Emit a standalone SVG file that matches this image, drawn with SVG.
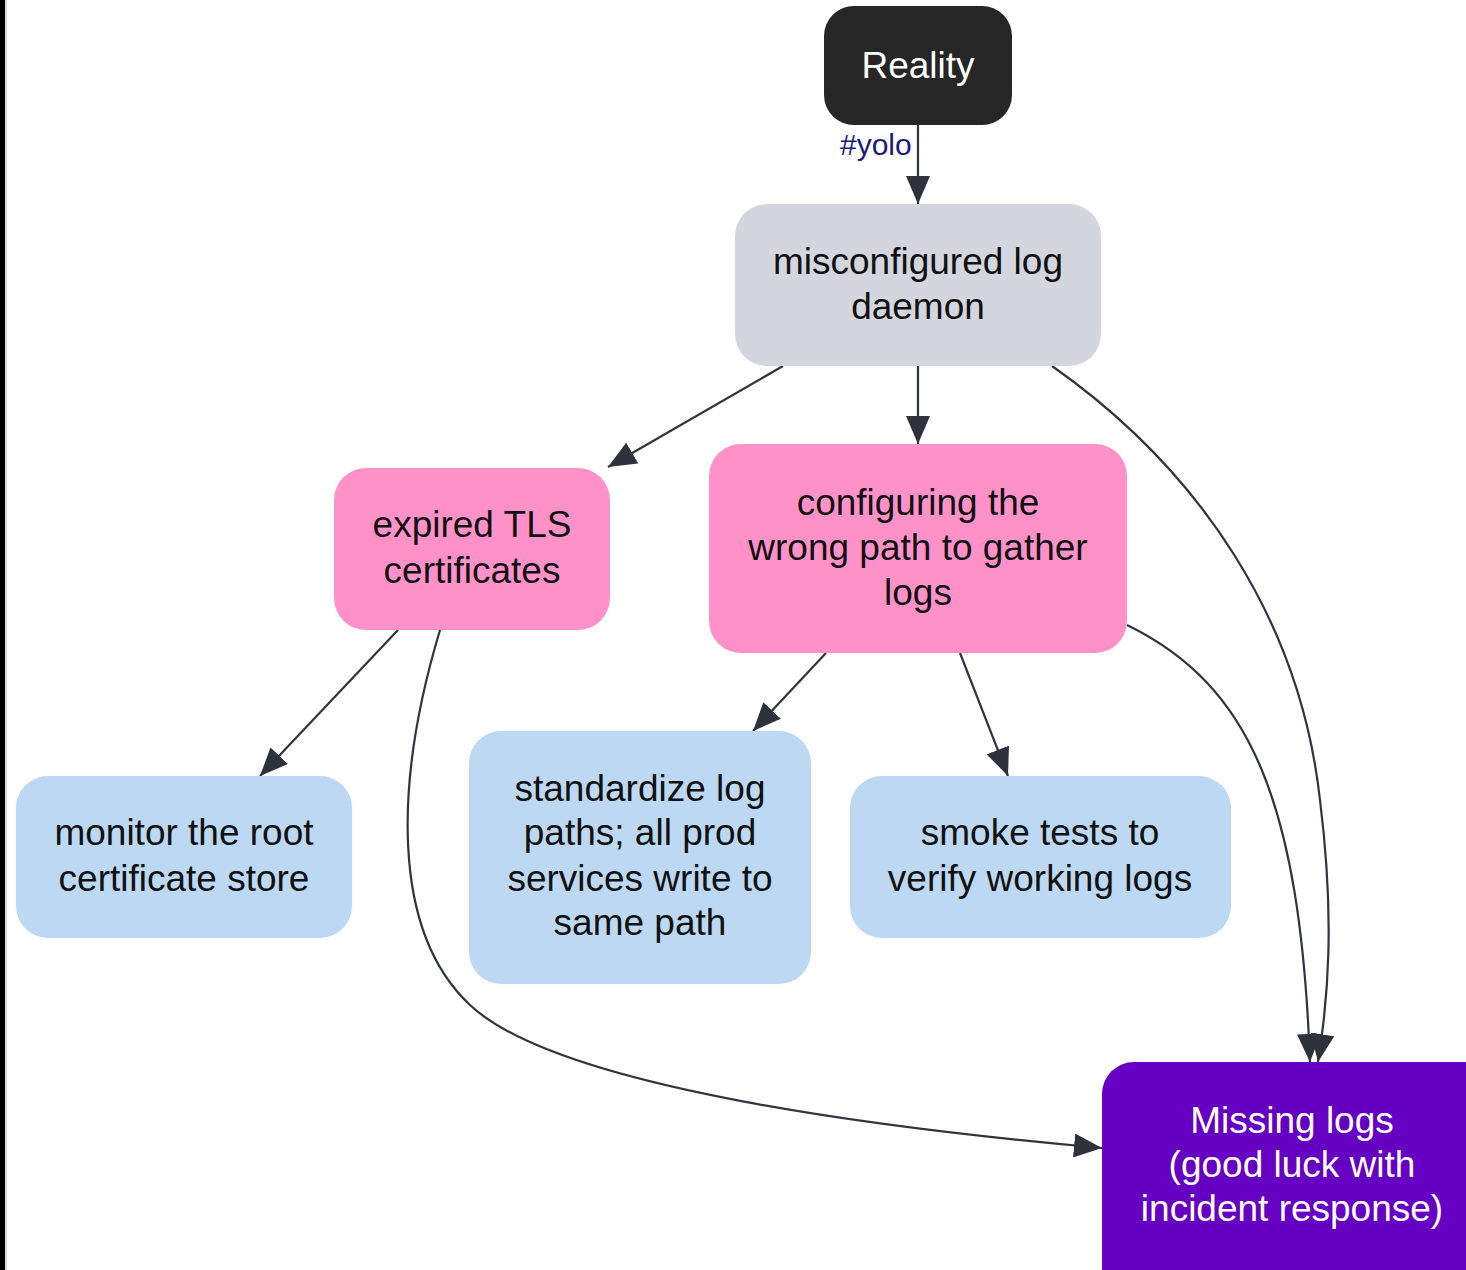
<svg xmlns="http://www.w3.org/2000/svg" width="1466" height="1270" viewBox="0 0 1466 1270">
  <style>
    .lbl { font-family: "Liberation Sans", Arial, sans-serif; font-size: 37px; text-anchor: middle; }
    .dark { fill: #111111; }
    .light { fill: #ffffff; }
    .edge { fill: none; stroke: #2f343f; stroke-width: 2.2; marker-end: url(#arrow); }
    .edgelbl { font-family: "Liberation Sans", Arial, sans-serif; font-size: 30px; fill: #1b1b7a; }
  </style>
  <defs>
    <marker id="arrow" viewBox="0 0 28 24" refX="28" refY="12" markerWidth="28" markerHeight="24" markerUnits="userSpaceOnUse" orient="auto">
      <path d="M0,0 L28,12 L0,24 Z" fill="#2d323d"/>
    </marker>
  </defs>

  <rect width="1466" height="1270" fill="#ffffff"/>
  <!-- window edge -->
  <rect x="0" y="0" width="5" height="1270" fill="#000000"/>
  <rect x="5" y="0" width="2" height="1270" fill="#d9d9d9"/>

  <g id="edges">
    <path class="edge" d="M918,125 L918,204"/>
    <path class="edge" d="M783,366 L608,467"/>
    <path class="edge" d="M918,366 L918,444"/>
    <path class="edge" d="M1052,366 C1200,470 1300,620 1320,800 C1335,920 1328,1000 1318,1062"/>
    <path class="edge" d="M1127,625 C1250,685 1300,800 1310,1062"/>
    <path class="edge" d="M398,630 L260,776"/>
    <path class="edge" d="M440,630 C395,780 390,930 470,1005 C560,1090 900,1130 1102,1148"/>
    <path class="edge" d="M826,653 L753,731"/>
    <path class="edge" d="M960,653 L1008,776"/>
    <text class="edgelbl" x="840" y="155">#yolo</text>
  </g>

  <g id="reality">
    <rect x="824" y="6" width="188" height="119" rx="30" fill="#262626"/>
    <text class="lbl light" x="918" y="78">Reality</text>
  </g>

  <g id="misconfigured">
    <rect x="735" y="204" width="366" height="162" rx="32" fill="#d3d6de"/>
    <text class="lbl dark" x="918" y="274">misconfigured log</text>
    <text class="lbl dark" x="918" y="319">daemon</text>
  </g>

  <g id="expired-tls">
    <rect x="334" y="468" width="276" height="162" rx="32" fill="#ff91c9"/>
    <text class="lbl dark" x="472" y="537">expired TLS</text>
    <text class="lbl dark" x="472" y="583">certificates</text>
  </g>

  <g id="wrong-path">
    <rect x="709" y="444" width="418" height="209" rx="32" fill="#ff91c9"/>
    <text class="lbl dark" x="918" y="515">configuring the</text>
    <text class="lbl dark" x="918" y="560">wrong path to gather</text>
    <text class="lbl dark" x="918" y="605">logs</text>
  </g>

  <g id="monitor-root">
    <rect x="16" y="776" width="336" height="162" rx="32" fill="#bcd8f2"/>
    <text class="lbl dark" x="184" y="845">monitor the root</text>
    <text class="lbl dark" x="184" y="891">certificate store</text>
  </g>

  <g id="standardize">
    <rect x="469" y="731" width="342" height="253" rx="32" fill="#bcd8f2"/>
    <text class="lbl dark" x="640" y="801">standardize log</text>
    <text class="lbl dark" x="640" y="845">paths; all prod</text>
    <text class="lbl dark" x="640" y="891">services write to</text>
    <text class="lbl dark" x="640" y="935">same path</text>
  </g>

  <g id="smoke-tests">
    <rect x="850" y="776" width="381" height="162" rx="32" fill="#bcd8f2"/>
    <text class="lbl dark" x="1040" y="845">smoke tests to</text>
    <text class="lbl dark" x="1040" y="891">verify working logs</text>
  </g>

  <g id="missing-logs">
    <rect x="1102" y="1062" width="394" height="240" rx="32" fill="#6600c2"/>
    <text class="lbl light" x="1292" y="1133">Missing logs</text>
    <text class="lbl light" x="1292" y="1177">(good luck with</text>
    <text class="lbl light" x="1292" y="1221">incident response)</text>
  </g>
</svg>
